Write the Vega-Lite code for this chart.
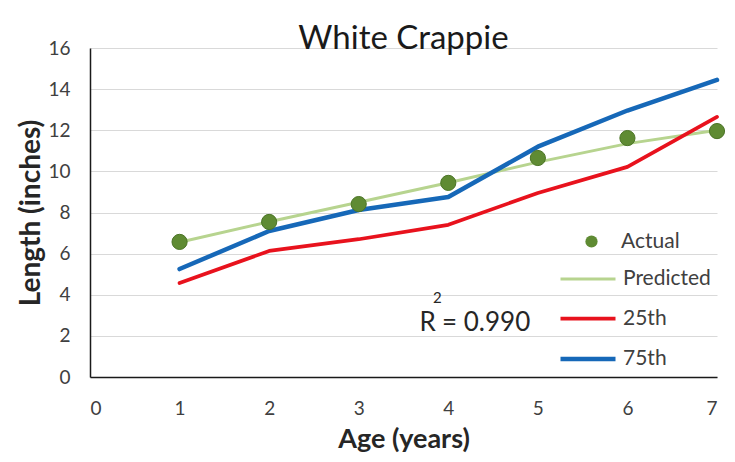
{
  "$schema": "https://vega.github.io/schema/vega-lite/v6.json",
  "width": 627,
  "height": 329,
  "autosize": {"type": "none"},
  "padding": {"left": 90, "top": 48, "right": 18, "bottom": 85},
  "background": "white",
  "config": {
    "view": {"stroke": null},
    "font": "Lato",
    "axis": {"labelFont": "Lato", "titleFont": "Lato", "labelColor": "#404040", "titleColor": "#262626"},
    "legend": {"labelFont": "Lato"}
  },
  "title": {
    "text": "White Crappie",
    "fontSize": 33,
    "fontWeight": "normal",
    "font": "Lato",
    "color": "#1a1a1a",
    "anchor": "middle",
    "offset": -17
  },
  "datasets": {
    "actual": [
      {"age": 1, "length": 6.57, "series": "Actual"},
      {"age": 2, "length": 7.54, "series": "Actual"},
      {"age": 3, "length": 8.41, "series": "Actual"},
      {"age": 4, "length": 9.44, "series": "Actual"},
      {"age": 5, "length": 10.65, "series": "Actual"},
      {"age": 6, "length": 11.62, "series": "Actual"},
      {"age": 7, "length": 11.96, "series": "Actual"}
    ],
    "lines": [
      {"age": 1, "length": 6.55, "series": "Predicted"},
      {"age": 2, "length": 7.55, "series": "Predicted"},
      {"age": 3, "length": 8.5, "series": "Predicted"},
      {"age": 4, "length": 9.45, "series": "Predicted"},
      {"age": 5, "length": 10.45, "series": "Predicted"},
      {"age": 6, "length": 11.35, "series": "Predicted"},
      {"age": 7, "length": 12.0, "series": "Predicted"},
      {"age": 1, "length": 4.57, "series": "25th"},
      {"age": 2, "length": 6.13, "series": "25th"},
      {"age": 3, "length": 6.7, "series": "25th"},
      {"age": 4, "length": 7.4, "series": "25th"},
      {"age": 5, "length": 8.95, "series": "25th"},
      {"age": 6, "length": 10.22, "series": "25th"},
      {"age": 7, "length": 12.65, "series": "25th"},
      {"age": 1, "length": 5.25, "series": "75th"},
      {"age": 2, "length": 7.1, "series": "75th"},
      {"age": 3, "length": 8.12, "series": "75th"},
      {"age": 4, "length": 8.75, "series": "75th"},
      {"age": 5, "length": 11.2, "series": "75th"},
      {"age": 6, "length": 12.96, "series": "75th"},
      {"age": 7, "length": 14.45, "series": "75th"}
    ],
    "note": [
      {"age": 3.68, "length": 2.24, "part": "R"},
      {"age": 3.93, "length": 2.24, "part": "= 0.990"}
    ],
    "sup": [
      {"age": 3.83, "length": 3.58, "part": "2"}
    ]
  },
  "layer": [
    {
      "data": {"name": "lines"},
      "mark": {"type": "line", "strokeCap": "round", "strokeJoin": "round"},
      "encoding": {
        "x": {
          "field": "age", "type": "quantitative",
          "scale": {"domain": [0, 7], "nice": false, "zero": true},
          "axis": {
            "values": [0, 1, 2, 3, 4, 5, 6, 7],
            "format": "d",
            "title": "Age (years)",
            "grid": false, "ticks": false,
            "domainColor": "#1a1a1a", "domainWidth": 1.5,
            "labelFontSize": 19, "labelPadding": 22,
            "titleFontSize": 27, "titleFontWeight": "bold", "titlePadding": 8
          }
        },
        "y": {
          "field": "length", "type": "quantitative",
          "scale": {"domain": [0, 16], "nice": false},
          "axis": {
            "values": [0, 2, 4, 6, 8, 10, 12, 14, 16],
            "format": "d",
            "title": "Length (inches)",
            "grid": true, "gridColor": "#d9d9d9", "gridWidth": 1,
            "ticks": false,
            "domainColor": "#1a1a1a", "domainWidth": 1.5,
            "labelFontSize": 19, "labelPadding": 20,
            "titleFontSize": 28, "titleFontWeight": "bold", "titlePadding": 2
          }
        },
        "stroke": {
          "field": "series", "type": "nominal",
          "scale": {"domain": ["Predicted", "25th", "75th"], "range": ["#b7d48f", "#e8121d", "#1668b8"]},
          "legend": {
            "title": null, "orient": "none", "legendX": 468, "legendY": 202,
            "symbolType": "stroke", "symbolSize": 3025, "symbolStrokeWidth": 4,
            "labelFontSize": 21, "labelColor": "#404040", "labelOffset": 5,
            "padding": 0, "rowPadding": -23
          }
        },
        "strokeWidth": {
          "field": "series", "type": "nominal",
          "scale": {"domain": ["Predicted", "25th", "75th"], "range": [3, 4.5, 4.5]},
          "legend": null
        },
        "order": {"field": "age"}
      }
    },
    {
      "data": {"name": "actual"},
      "mark": {"type": "point", "filled": true, "size": 230, "opacity": 1, "stroke": "#4b7426", "strokeWidth": 1},
      "encoding": {
        "x": {"field": "age", "type": "quantitative"},
        "y": {"field": "length", "type": "quantitative"},
        "fill": {
          "field": "series", "type": "nominal",
          "scale": {"domain": ["Actual"], "range": ["#5f8b33"]},
          "legend": {
            "title": null, "orient": "none", "legendX": 491, "legendY": 183,
            "symbolType": "circle", "symbolSize": 150, "symbolStrokeWidth": 0,
            "labelFontSize": 21, "labelColor": "#404040", "labelOffset": 19,
            "padding": 0
          }
        }
      }
    },
    {
      "data": {"name": "note"},
      "mark": {"type": "text", "align": "left", "baseline": "alphabetic", "fontSize": 26, "color": "#262626", "font": "Lato"},
      "encoding": {
        "x": {"field": "age", "type": "quantitative"},
        "y": {"field": "length", "type": "quantitative"},
        "text": {"field": "part"}
      }
    },
    {
      "data": {"name": "sup"},
      "mark": {"type": "text", "align": "left", "baseline": "alphabetic", "fontSize": 15, "color": "#262626", "font": "Lato"},
      "encoding": {
        "x": {"field": "age", "type": "quantitative"},
        "y": {"field": "length", "type": "quantitative"},
        "text": {"field": "part"}
      }
    }
  ]
}
